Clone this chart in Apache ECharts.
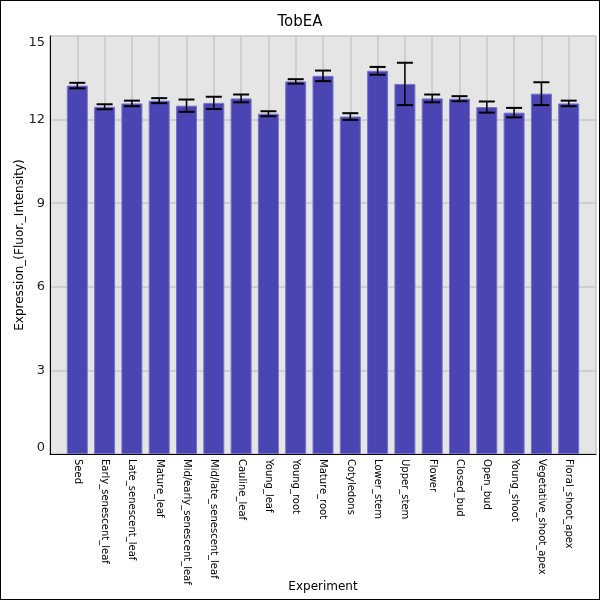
<!DOCTYPE html>
<html>
<head>
<meta charset="utf-8">
<script src="https://cdn.jsdelivr.net/npm/echarts@6/dist/echarts.min.js"></script>
<style>
  html, body { margin: 0; padding: 0; background: #fff; }
  #chart { width: 600px; height: 600px; box-sizing: border-box; border: 1px solid #000; }
</style>
</head>
<body>
<div id="chart"></div>
<script>
// categories (samples)
const categories = [
  'Seed', 'Early_senescent_leaf', 'Late_senescent_leaf', 'Mature_leaf',
  'Mid/early_senescent_leaf', 'Mid/late_senescent_leaf', 'Cauline_leaf',
  'Young_leaf', 'Young_root', 'Mature_root', 'Cotyledons', 'Lower_stem',
  'Upper_stem', 'Flower', 'Closed_bud', 'Open_bud', 'Young_shoot',
  'Vegetative_shoot_apex', 'Floral_shoot_apex'
]
// mean expression
const means = [
  13.22, 12.46, 12.58, 12.68, 12.50, 12.60, 12.76,
  12.21, 13.37, 13.57, 12.11, 13.75, 13.28, 12.76,
  12.75, 12.45, 12.25, 12.93, 12.58
]
// standard deviation (error bar half length)
const errors = [
  0.10, 0.09, 0.10, 0.09, 0.22, 0.22, 0.14,
  0.09, 0.08, 0.19, 0.12, 0.14, 0.76, 0.14,
  0.09, 0.20, 0.17, 0.41, 0.10
]
const yTicks = [0, 3, 6, 9, 12, 15]

// one empty slot on each side, like the original plot padding
const axisCats = [''].concat(categories, [''])
const barData = [null].concat(means, [null])
const errData = means.map((m, i) => [i + 1, m - errors[i], m + errors[i]])

const chart = echarts.init(document.getElementById('chart'))

chart.setOption({
  animation: false,
  textStyle: { fontFamily: 'DejaVu Sans' },
  title: {
    text: 'TobEA',
    left: 'center',
    top: 9,
    textStyle: { fontSize: 15, fontWeight: 'normal', color: '#000', fontFamily: 'DejaVu Sans' }
  },
  grid: {
    left: 49, right: 3, top: 35, bottom: 145,
    outerBoundsMode: 'none',
    containLabel: false,
    show: true, backgroundColor: '#e5e5e5', borderWidth: 0
  },
  xAxis: {
    type: 'category',
    data: axisCats,
    boundaryGap: false,
    name: 'Experiment',
    nameLocation: 'middle',
    nameGap: 127,
    nameMoveOverlap: false,
    nameTextStyle: { fontSize: 12, color: '#000' },
    axisLine: { lineStyle: { color: '#000', width: 1 } },
    axisTick: { show: false },
    axisLabel: { interval: 0, rotate: -90, fontSize: 10, color: '#000', margin: 5 },
    splitLine: { show: true, lineStyle: { color: '#c6c6c6', width: 1.5 } }
  },
  yAxis: {
    type: 'value',
    min: 0,
    max: 15,
    interval: 3,
    name: 'Expression_(Fluor._Intensity)',
    nameLocation: 'middle',
    nameGap: 24,
    nameMoveOverlap: false,
    nameTextStyle: { fontSize: 12, color: '#000' },
    axisLine: { show: true, lineStyle: { color: '#000', width: 1 } },
    axisTick: { show: false },
    axisLabel: {
      fontSize: 13, color: '#222', margin: 5,
      verticalAlignMaxLabel: 'top', verticalAlignMinLabel: 'bottom',
      formatter: v => yTicks.includes(v) ? String(v) : ''
    },
    splitLine: { lineStyle: { color: '#c6c6c6', width: 1.5 } }
  },
  series: [
    {
      type: 'bar',
      data: barData,
      barWidth: 21,
      itemStyle: { color: '#4a45b3', borderColor: '#7773c9', borderWidth: 1 },
      z: 2
    },
    {
      type: 'custom',
      data: errData,
      z: 3,
      renderItem: (params, api) => {
        const x = api.value(0)
        const lo = api.coord([x, api.value(1)])
        const hi = api.coord([x, api.value(2)])
        const half = 8
        const st = { stroke: '#000', lineWidth: 2 }
        return {
          type: 'group',
          children: [
            { type: 'line', shape: { x1: lo[0], y1: lo[1], x2: hi[0], y2: hi[1] }, style: { stroke: '#000', lineWidth: 1.5 } },
            { type: 'line', shape: { x1: hi[0] - half, y1: hi[1], x2: hi[0] + half, y2: hi[1] }, style: st },
            { type: 'line', shape: { x1: lo[0] - half, y1: lo[1], x2: lo[0] + half, y2: lo[1] }, style: st }
          ]
        }
      }
    }
  ]
})
</script>
</body>
</html>
